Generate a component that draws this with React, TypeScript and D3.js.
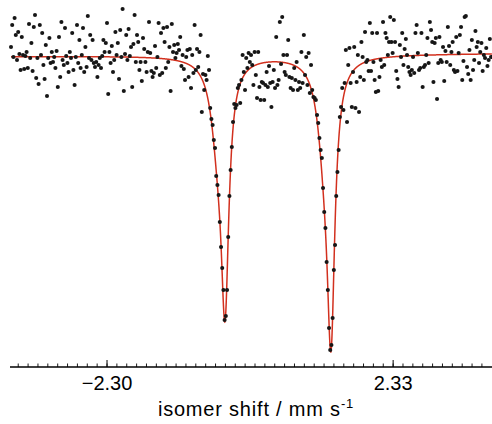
import React from 'react';
import * as d3 from 'd3';

const W = 492;
const H = 424;

// Channel calibration (velocity of channel 0 and channel width, mm/s)
const VELOCITY_START = -3.8538;
const VELOCITY_STEP = 0.019421;

// Relative transmission (%) per channel
const transmission: number[] = [
  100.10, 100.32, 100.00, 100.39, 100.22, 99.97, 100.25, 100.03, 99.87, 100.20,
  100.02, 99.88, 100.01, 100.05, 99.89, 100.33, 99.99, 100.14, 99.86, 100.30,
  100.42, 99.79, 99.99, 99.73, 100.32, 100.02, 100.24, 99.92, 99.78, 100.12,
  99.61, 99.99, 100.19, 99.94, 100.05, 99.95, 100.00, 99.89, 100.06, 99.70,
  100.20, 99.80, 100.35, 99.97, 99.92, 100.29, 100.01, 99.94, 99.85, 100.05,
  99.99, 100.24, 99.87, 99.72, 100.00, 100.32, 99.94, 100.17, 99.89, 100.02,
  100.29, 99.85, 100.10, 99.90, 100.41, 99.99, 100.22, 99.97, 100.17, 99.94,
  99.90, 99.95, 99.80, 99.92, 99.99, 99.89, 100.01, 100.17, 100.05, 100.14,
  100.34, 99.63, 100.05, 99.94, 100.11, 99.85, 99.97, 100.25, 100.02, 100.14,
  99.78, 100.27, 100.00, 100.48, 99.66, 100.03, 100.22, 99.97, 100.28, 100.01,
  100.10, 99.70, 100.13, 100.42, 99.95, 100.22, 100.15, 99.87, 99.95, 99.76,
  100.19, 100.08, 99.95, 99.85, 100.05, 100.35, 100.04, 99.86, 99.80, 99.84,
  100.11, 99.89, 100.00, 100.34, 99.82, 100.24, 99.84, 100.29, 100.15, 99.89,
  100.30, 99.95, 100.10, 99.66, 100.33, 100.05, 100.12, 99.99, 100.04, 100.13,
  100.07, 100.20, 99.91, 100.02, 99.88, 99.77, 100.00, 100.07, 99.80, 100.08,
  99.69, 100.02, 99.84, 100.32, 99.87, 100.08, 99.90, 100.05, 100.22, 99.45,
  99.83, 99.67, 99.82, 99.77, 100.01, 99.87, 99.49, 99.38, 99.32, 99.17,
  99.09, 98.81, 98.72, 98.62, 98.35, 98.10, 97.89, 97.67, 97.37, 97.41,
  97.67, 98.20, 98.61, 98.87, 99.10, 99.35, 99.53, 99.49, 99.52, 99.69,
  99.72, 99.54, 99.77, 100.02, 99.85, 99.67, 99.99, 99.89, 100.04, 99.95,
  100.02, 99.92, 99.72, 100.05, 99.82, 99.59, 100.05, 99.70, 99.57, 99.75,
  99.74, 99.57, 99.72, 99.85, 99.70, 99.91, 99.74, 99.50, 99.75, 99.87,
  99.69, 100.20, 99.72, 99.77, 100.35, 99.93, 100.40, 100.02, 99.85, 99.82,
  100.02, 100.17, 99.80, 99.69, 99.79, 99.67, 99.89, 99.77, 99.95, 99.67,
  99.75, 99.69, 100.05, 99.74, 100.22, 99.82, 100.00, 99.72, 100.04, 99.64,
  99.92, 99.67, 99.60, 99.59, 99.57, 99.42, 99.34, 99.19, 99.07, 98.99,
  98.69, 98.45, 98.29, 97.95, 97.67, 97.29, 97.07, 97.12, 97.39, 97.87,
  98.12, 98.61, 98.85, 99.07, 99.40, 99.50, 99.69, 99.47, 99.74, 100.07,
  99.35, 99.92, 100.09, 99.74, 99.50, 99.85, 100.10, 99.49, 99.75, 100.02,
  99.45, 99.80, 100.15, 100.00, 99.77, 100.25, 99.95, 99.97, 99.86, 100.34,
  99.86, 100.24, 99.95, 99.77, 99.65, 100.24, 99.66, 99.80, 99.97, 99.90,
  100.35, 99.92, 100.24, 100.19, 100.02, 100.15, 100.40, 100.15, 100.04, 100.37,
  100.15, 99.86, 99.78, 99.70, 100.12, 100.00, 100.24, 99.92, 100.08, 100.18,
  100.02, 99.90, 99.85, 99.82, 99.87, 100.00, 99.84, 100.24, 100.32, 100.04,
  99.87, 99.89, 100.24, 99.70, 99.90, 99.92, 100.02, 100.19, 99.94, 100.35,
  100.27, 100.15, 99.75, 100.14, 100.19, 99.58, 99.94, 100.20, 99.97, 99.95,
  100.10, 99.76, 100.06, 99.95, 100.30, 100.11, 99.92, 100.05, 100.15, 99.87,
  99.85, 100.20, 99.86, 100.04, 100.22, 100.30, 99.77, 99.96, 100.40, 100.41,
  99.90, 99.83, 100.07, 99.77, 100.17, 99.87, 99.97, 100.26, 100.10, 100.15,
  99.94, 100.05, 100.14, 99.86, 100.02, 99.99, 100.09, 99.91, 99.97, 100.18,
  100.00,
];

// Axis
const X_DOMAIN: [number, number] = [-3.87, 3.93];
const Y_DOMAIN: [number, number] = [96.5, 100.5];
const MAJOR_TICKS = [-2.3, 2.33];
const MAJOR_LABELS = ['\u22122.30', '2.33'];
const MINOR_INTERVALS_BETWEEN_MAJORS = 29;
const X_TITLE = 'isomer shift / mm s';
const X_TITLE_SUP = '-1';

// Fit: sloping baseline and Lorentzian lines (two quadrupole doublets)
const BASELINE_INTERCEPT = 100.02;
const BASELINE_SLOPE = 0.004;
const LINE_CENTERS = [-0.39, 1.325, -0.504, 1.22];
const LINE_DEPTHS = [2.25, 2.5, 0.7, 0.75];
const LINE_HWHM = [0.0744, 0.0744, 0.1327, 0.1327];

function fit(v: number): number {
  let t = BASELINE_INTERCEPT + BASELINE_SLOPE * v;
  for (let k = 0; k < LINE_CENTERS.length; k++) {
    const u = (v - LINE_CENTERS[k]) / LINE_HWHM[k];
    t -= LINE_DEPTHS[k] / (1 + u * u);
  }
  return t;
}

export default function App() {
  const x = d3.scaleLinear().domain(X_DOMAIN).range([10, 492]);
  const y = d3.scaleLinear().domain(Y_DOMAIN).range([407, 7]);
  const axisY = 367;

  const points = transmission.map((t, i) => [VELOCITY_START + i * VELOCITY_STEP, t] as [number, number]);
  const vLast = VELOCITY_START + (transmission.length - 1) * VELOCITY_STEP;
  const curveV = d3.range(VELOCITY_START, Math.min(vLast + 0.02, X_DOMAIN[1]), 0.002);
  const line = d3
    .line<number>()
    .x((v) => x(v))
    .y((v) => y(fit(v)));

  const step = (MAJOR_TICKS[1] - MAJOR_TICKS[0]) / MINOR_INTERVALS_BETWEEN_MAJORS;
  const minorTicks: number[] = [];
  for (let k = -40; k <= 80; k++) {
    const v = MAJOR_TICKS[0] + k * step;
    if (x(v) >= 12 && x(v) <= 491.5) minorTicks.push(v);
  }

  return (
    <svg
      width={W}
      height={H}
      style={{ position: 'absolute', left: 0, top: 0, background: '#fff' }}
      fontFamily="'Liberation Sans', Arial, sans-serif"
    >
      <path d={line(curveV) || ''} fill="none" stroke="#d2301e" strokeWidth={1.5} />
      <g fill="#161616">
        {points.map((p, i) => (
          <circle key={i} cx={x(p[0])} cy={y(p[1])} r={2.05} />
        ))}
      </g>
      <line x1={10} x2={492} y1={axisY} y2={axisY} stroke="#000" strokeWidth={1.3} />
      {minorTicks.map((v, i) => (
        <line key={i} x1={x(v)} x2={x(v)} y1={axisY} y2={axisY - 3.5} stroke="#000" strokeWidth={0.9} />
      ))}
      {MAJOR_TICKS.map((v, i) => (
        <g key={i}>
          <line x1={x(v)} x2={x(v)} y1={axisY} y2={axisY - 7} stroke="#000" strokeWidth={1} />
          <text x={x(v)} y={390} textAnchor="middle" fontSize={20} fill="#000">
            {MAJOR_LABELS[i]}
          </text>
        </g>
      ))}
      <text x={256} y={416} textAnchor="middle" fontSize={20} fill="#000" letterSpacing={0.8}>
        {X_TITLE}
        <tspan dy={-8} fontSize={13}>
          {X_TITLE_SUP}
        </tspan>
      </text>
    </svg>
  );
}
